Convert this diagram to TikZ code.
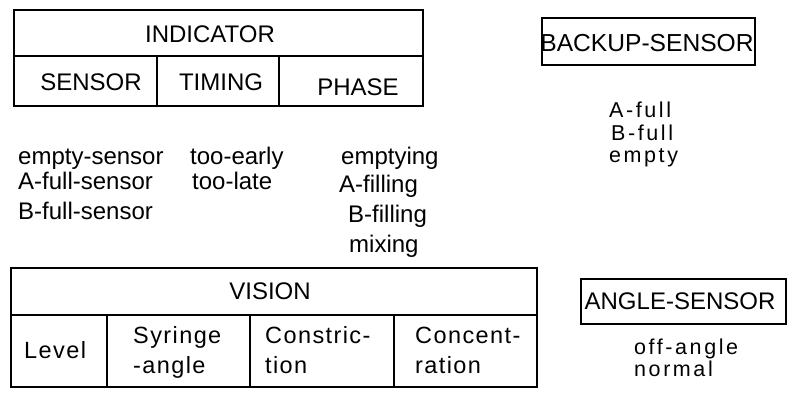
\documentclass[tikz,border=0pt]{standalone}
\usepackage{fontspec}
\setmainfont{Liberation Sans}
\newfontfamily\spaced[LetterSpace=12]{Liberation Sans}
\newfontfamily\vspaced[LetterSpace=6]{Liberation Sans}
\begin{document}
\begin{tikzpicture}[x=1pt,y=-1pt,
  boxline/.style={line width=1.7pt, line cap=rect},
  lab/.style={inner sep=0pt, font=\fontsize{24}{28}\selectfont},
  slab/.style={inner sep=0pt, font=\fontsize{21.5}{26}\spaced},
  vlab/.style={inner sep=0pt, font=\fontsize{23.5}{26}\vspaced, align=left}]
\useasboundingbox (0,0) rectangle (790,394);
% INDICATOR frame
\draw[boxline] (14,10) rectangle (423,106);
\draw[boxline] (14,56) -- (423,56);
\draw[boxline] (157,56) -- (157,106);
\draw[boxline] (279,56) -- (279,106);
\node[lab, anchor=base] (ind) at (210,42) {INDICATOR};
\node[lab, anchor=base] (sen) at (91,90) {SENSOR};
\node[lab, anchor=base] (tim) at (221,90) {TIMING};
\node[lab, anchor=base] (pha) at (358,95) {PHASE};
% value lists
\node[lab, anchor=base west] (s1) at (18,164) {empty-sensor};
\node[lab, anchor=base west] (s2) at (18,189) {A-full-sensor};
\node[lab, anchor=base west] (s3) at (18,219) {B-full-sensor};
\node[lab, anchor=base west] (t1) at (190,164) {too-early};
\node[lab, anchor=base west] (t2) at (192,189) {too-late};
\node[lab, anchor=base west] (p1) at (341,164) {emptying};
\node[lab, anchor=base west] (p2) at (339,192) {A-filling};
\node[lab, anchor=base west] (p3) at (348,222) {B-filling};
\node[lab, anchor=base west] (p4) at (349,252) {mixing};
% BACKUP-SENSOR
\draw[boxline] (542,18) rectangle (755,65);
\node[lab, anchor=base, font=\fontsize{24.6}{28}\selectfont] (bs) at (647,51) {BACKUP-SENSOR};
\node[slab, anchor=base west] (b1) at (609,117) {A-full};
\node[slab, anchor=base west] (b2) at (611,140) {B-full};
\node[slab, anchor=base west] (b3) at (609,162) {empty};
% VISION frame
\draw[boxline] (11,268) rectangle (537,387);
\draw[boxline] (11,315) -- (537,315);
\draw[boxline] (107,315) -- (107,387);
\draw[boxline] (250,315) -- (250,387);
\draw[boxline] (394,315) -- (394,387);
\node[lab, anchor=base] (vis) at (270,299) {VISION};
\node[vlab, anchor=base west] (lev) at (24,358) {Level};
\node[vlab, anchor=base west] (sy1) at (133,343) {Syringe};
\node[vlab, anchor=base west] (sy2) at (133,373) {-angle};
\node[vlab, anchor=base west] (co1) at (265,343) {Constric-};
\node[vlab, anchor=base west] (co2) at (265,373) {tion};
\node[vlab, anchor=base west] (cc1) at (415,343) {Concent-};
\node[vlab, anchor=base west] (cc2) at (415,373) {ration};
% ANGLE-SENSOR
\draw[boxline] (581,279) rectangle (786,324);
\node[lab, anchor=base] (as) at (680,309) {ANGLE-SENSOR};
\node[slab, anchor=base west] (a1) at (634,354) {off-angle};
\node[slab, anchor=base west] (a2) at (634,376) {normal};
\end{tikzpicture}
\end{document}
